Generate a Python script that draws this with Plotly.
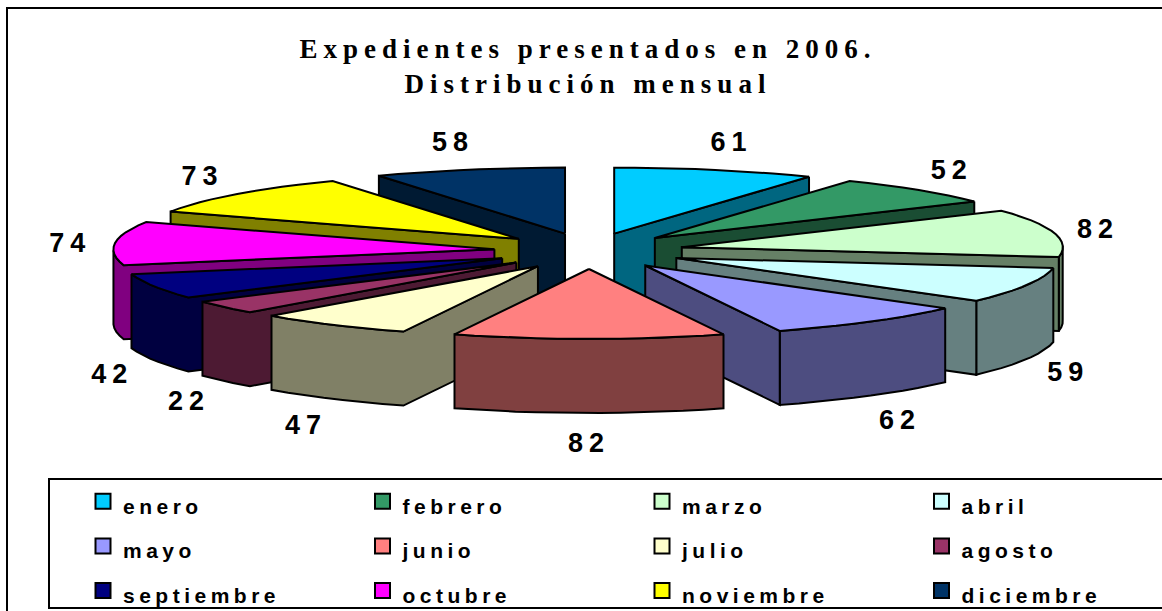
import math
import plotly.graph_objects as go

months = ["enero", "febrero", "marzo", "abril", "mayo", "junio", "julio", "agosto",
          "septiembre", "octubre", "noviembre", "diciembre"]
values = [61, 52, 82, 59, 62, 82, 47, 22, 42, 74, 73, 58]
top_colors = ["#00CCFF", "#339966", "#CCFFCC", "#CCFFFF", "#9999FF", "#FF8080",
              "#FFFFCC", "#993366", "#000080", "#FF00FF", "#FFFF00", "#003366"]
side_colors = ["#006680", "#1A4D33", "#668066", "#668080", "#4D4D80", "#804040",
               "#808066", "#4D1A33", "#000040", "#800080", "#808000", "#001A33"]
title_text = "Expedientes presentados en 2006.<br>Distribución mensual"

W, H = 1162, 611
CX, CY = 589, 251
RX, RY_MID, RY_TILT = 381, 68, 2
EX, EY = 95, 18
DEPTH = 74
LINE = dict(color="#000000", width=2)

fig = go.Figure()

# legend entries first, so their order stays the calendar order
for m, c in zip(months, top_colors):
    fig.add_trace(go.Scatter(x=[None], y=[None], mode="markers", name=m, showlegend=True,
                             marker=dict(symbol="square", size=15, color=c,
                                         line=dict(color="#000000", width=2)),
                             hoverinfo="skip"))

total = sum(values)
wedges = []
acc = 0
for v, top, side in zip(values, top_colors, side_colors):
    a0 = acc / total * 2 * math.pi
    a1 = (acc + v) / total * 2 * math.pi
    acc += v
    wedges.append((a0, a1, top, side))


def polygon(xs, ys, color):
    fig.add_trace(go.Scatter(x=xs, y=ys, mode="lines", fill="toself", fillcolor=color,
                             line=LINE, showlegend=False, hoverinfo="skip"))


# painter's order: the wedges at the back go first
for a0, a1, top, side in sorted(wedges, key=lambda w: -math.cos((w[0] + w[1]) / 2)):
    mid = (a0 + a1) / 2
    ax = CX + EX * math.sin(mid)
    ay = CY - EY * math.cos(mid)
    n = max(3, int((a1 - a0) / math.radians(3)))
    arc = [a0 + (a1 - a0) * i / n for i in range(n + 1)]
    outline = [(ax, ay)] + [(ax + RX * math.sin(t),
                             ay - (RY_MID - RY_TILT * math.cos(t)) * math.cos(t)) for t in arc]
    closed = outline + [outline[0]]

    # front faces: on a clockwise outline these are the edges that run leftwards
    run = []
    runs = []
    for p, q in zip(closed[:-1], closed[1:]):
        if q[0] < p[0] - 1e-6:
            if not run:
                run = [p]
            run.append(q)
        elif run:
            runs.append(run)
            run = []
    if run:
        runs.append(run)
    # radial edge and arc are separate faces
    for r in runs:
        if r[-1] == closed[-1] and len(r) > 2:
            runs_here = [r[:-1], r[-2:]]
        else:
            runs_here = [r]
        for part in runs_here:
            xs = [p[0] for p in part] + [p[0] for p in reversed(part)] + [part[0][0]]
            ys = [p[1] for p in part] + [p[1] + DEPTH for p in reversed(part)] + [part[0][1]]
            polygon(xs, ys, side)

    polygon([p[0] for p in closed], [p[1] for p in closed], top)

# data labels
lab_x, lab_y = [], []
for (a0, a1, _, _) in wedges:
    mid = (a0 + a1) / 2
    s, c = math.sin(mid), math.cos(mid)
    lab_x.append(CX + 515 * s + (6 if s > 0.01 else -6 if s < -0.01 else 0))
    lab_y.append(CY + 5 - 116 * c + (DEPTH - 1 if c < 0 else 0))
fig.add_trace(go.Scatter(x=lab_x, y=lab_y, mode="text", text=[str(v) for v in values],
                         textposition="middle center", showlegend=False, hoverinfo="skip",
                         textfont=dict(family="Liberation Sans", size=27, color="#000000", weight=700)))

fig.update_layout(
    width=W, height=H, autosize=False,
    margin=dict(l=0, r=0, t=0, b=0, pad=0, autoexpand=False),
    paper_bgcolor="#FFFFFF", plot_bgcolor="#FFFFFF",
    xaxis=dict(range=[0, W], visible=False, fixedrange=True),
    yaxis=dict(range=[H, 0], visible=False, fixedrange=True),
    title=dict(text=title_text, x=588 / W, xanchor="center", y=1 - 58 / H, yanchor="top",
               font=dict(family="Liberation Serif", size=27, color="#000000", weight=700)),
    legend=dict(orientation="h", x=83 / W, xanchor="left", y=1 - 474 / H, yanchor="top",
                entrywidth=234.5, entrywidthmode="pixels", traceorder="normal",
                bgcolor="rgba(0,0,0,0)", borderwidth=0,
                font=dict(family="Liberation Sans", size=32, color="#000000", weight=700)),
    shapes=[
        dict(type="rect", xref="x", yref="y", x0=7, y0=8, x1=W + 20, y1=H + 20,
             line=dict(color="#000000", width=2), fillcolor="rgba(0,0,0,0)", layer="below"),
        dict(type="rect", xref="x", yref="y", x0=49, y0=479, x1=W + 20, y1=608,
             line=dict(color="#000000", width=2), fillcolor="rgba(0,0,0,0)", layer="below"),
    ],
)

css = """
var s = document.createElement('style');
s.textContent = 'html,body{margin:0;padding:0;overflow:hidden}'
  + '.gtitle{letter-spacing:6px}'
  + '.legendtext{font-size:21px !important;letter-spacing:4.5px}'
  + '.textpoint text{letter-spacing:6px}';
document.head.appendChild(s);
"""
fig.write_html("out.html", post_script=css, config=dict(displayModeBar=False, staticPlot=True))
